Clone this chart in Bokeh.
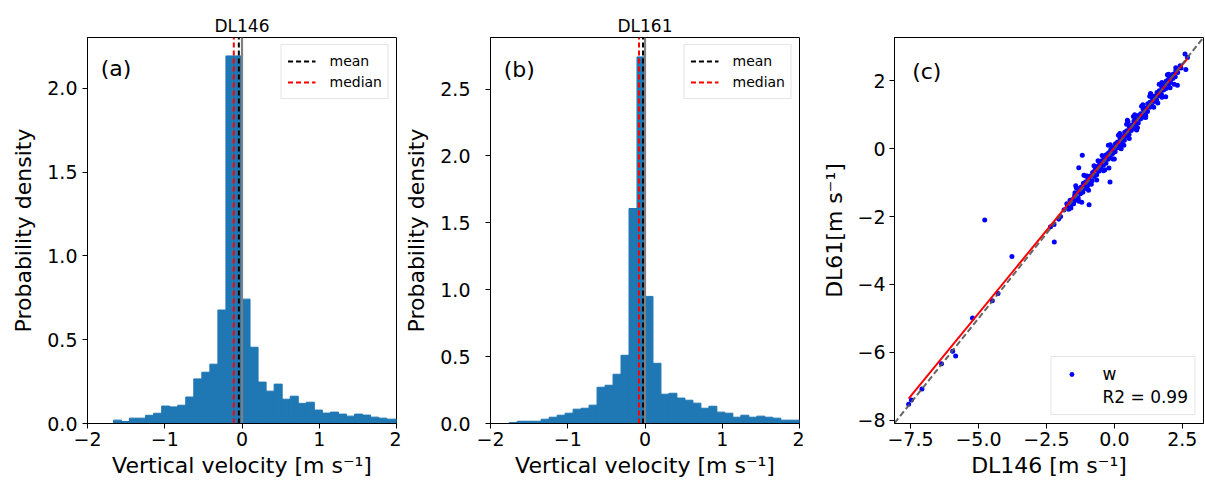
from bokeh.plotting import figure
from bokeh.layouts import row
from bokeh.models import (FixedTicker, CustomJSTickFormatter, Legend, LegendItem,
                          Label, Range1d)
from bokeh.embed import file_html
from bokeh.resources import INLINE

# ---------------- data ----------------
# panel (a) DL146 histogram (density), bins of width 0.104 starting at -1.664
bin_width_a = 0.104
first_edge_a = -1.664
dens_a = [0.020, 0.012, 0.032, 0.032, 0.049, 0.061, 0.104, 0.099, 0.109, 0.158,
          0.266, 0.306, 0.354, 0.677, 2.193, 2.193, 0.742, 0.455, 0.247, 0.193,
          0.235, 0.145, 0.163, 0.120, 0.127, 0.080, 0.062, 0.068, 0.056, 0.044,
          0.056, 0.050, 0.038, 0.032, 0.026, 0.026]
mean_a = -0.041
median_a = -0.106

# panel (b) DL161 histogram (density), bins of width 0.1034 starting at -1.758
bin_width_b = 0.1034
first_edge_b = -1.758
dens_b = [0.007, 0.017, 0.017, 0.017, 0.032, 0.047, 0.062, 0.077, 0.107, 0.114,
          0.137, 0.271, 0.286, 0.368, 0.510, 1.607, 2.740, 0.950, 0.450, 0.219,
          0.226, 0.190, 0.174, 0.152, 0.114, 0.129, 0.085, 0.077, 0.047, 0.062,
          0.047, 0.055, 0.047, 0.040, 0.025, 0.025, 0.025]
mean_b = -0.026
median_b = -0.078

# panel (c) scatter DL146 vs DL61
w146 = [-4.77, -3.77, -2.21, -2.22, -2.35, -1.98, -4.49, -4.28, -5.22, -5.95,
        -5.84, -6.36, -7.08, -7.57, -7.47, -1.18, -1.31, -0.16, -0.93, -1.20,
        -1.42, -1.12, -0.20, 2.60, 2.69, 2.63, 2.26, 2.32, 1.89, 1.33,
        1.15, 0.48, 0.82, -1.75, -1.85, -2.05, -1.60,
        -1.72, -1.63, -1.55, -1.46, -1.38, -1.31, -1.22, -1.14, -1.05, -0.97,
        -0.88, -0.80, -0.71, -0.63, -0.55, -0.46, -0.38, -0.30, -0.21, -0.13,
        -0.05, 0.04, 0.12, 0.21, 0.29, 0.38, 0.46, 0.55, 0.63, 0.72,
        0.80, 0.89, 0.97, 1.06, 1.14, 1.23, 1.31, 1.40, 1.48, 1.57,
        1.65, 1.74, 1.82, 1.91, 1.99, 2.08, 2.16, 2.26,
        -1.68, -1.59, -1.50, -1.42, -1.33, -1.25, -1.16, -1.08, -0.99, -0.91,
        -0.82, -0.74, -0.65, -0.57, -0.48, -0.40, -0.31, -0.23, -0.14, -0.06,
        0.03, 0.11, 0.20, 0.28, 0.37, 0.45, 0.54, 0.62, 0.71, 0.79,
        0.88, 0.96, 1.05, 1.13, 1.22, 1.30, 1.39, 1.47, 1.56, 1.64,
        1.73, 1.81, 1.90, 1.98, 2.07, 2.15, 2.24, 2.33, 2.45,
        -1.65, -1.48, -1.27, -1.10, -0.93, -0.76, -0.59, -0.42, -0.25, -0.08,
        0.09, 0.26, 0.43, 0.60, 0.77, 0.94, 1.11, 1.28, 1.45, 1.62,
        1.79, 1.96, 2.13, 2.30, 2.42,
        1.00, 1.30, 0.50, 1.15, -0.60, -0.40, 0.20, 0.00, 1.60, 2.00,
        2.20, -1.00, -0.22, 0.35, -0.85, 1.75, 0.70, -1.45,
        -1.40, -1.05, -0.75, -0.45, -0.15, 0.15, 0.45, 0.75, 1.05, 1.35,
        1.65, 1.95, -1.30, -0.95, -0.65, -0.35, -0.05, 0.25, 0.55, 0.85,
        1.15, 1.45, 1.75, 2.05]
w61 = [-2.10, -3.18, -2.75, -2.23, -2.30, -2.00, -4.48, -4.27, -4.99, -5.97,
       -6.11, -6.34, -7.08, -7.53, -7.41, -0.19, -0.56, -0.98, -1.65, -1.58,
       -1.09, -0.78, -0.57, 2.79, 2.69, 2.34, 2.39, 1.87, 1.53, 1.63,
       0.99, 0.84, 0.55, -1.62, -1.80, -2.08, -1.75,
       -1.68, -1.52, -1.50, -1.38, -1.30, -1.18, -1.13, -1.02, -0.97, -0.85,
       -0.80, -0.70, -0.62, -0.52, -0.47, -0.35, -0.30, -0.18, -0.12, -0.02,
       0.04, 0.15, 0.20, 0.32, 0.37, 0.49, 0.53, 0.65, 0.70, 0.82,
       0.86, 0.98, 1.03, 1.16, 1.20, 1.33, 1.37, 1.49, 1.55, 1.66,
       1.71, 1.83, 1.87, 2.00, 2.05, 2.12, 2.20, 2.30,
       -1.78, -1.66, -1.62, -1.52, -1.45, -1.33, -1.28, -1.17, -1.10, -0.99,
       -0.94, -0.82, -0.77, -0.66, -0.59, -0.48, -0.43, -0.31, -0.26, -0.14,
       -0.09, 0.03, 0.08, 0.20, 0.25, 0.37, 0.42, 0.54, 0.59, 0.71,
       0.76, 0.88, 0.93, 1.05, 1.10, 1.22, 1.27, 1.39, 1.44, 1.56,
       1.61, 1.73, 1.78, 1.90, 1.95, 2.07, 2.12, 2.25, 2.38,
       -1.62, -1.47, -1.25, -1.09, -0.92, -0.76, -0.58, -0.41, -0.24, -0.07,
       0.10, 0.27, 0.44, 0.61, 0.78, 0.95, 1.12, 1.29, 1.46, 1.63,
       1.80, 1.97, 2.14, 2.31, 2.45,
       1.25, 1.55, 0.80, 0.95, -0.35, -0.65, 0.45, -0.30, 1.35, 2.20,
       1.90, -0.80, 0.10, 0.10, -1.05, 1.95, 0.95, -1.30,
       -1.15, -0.80, -0.50, -0.20, 0.12, 0.40, 0.72, 1.00, 1.30, 1.60,
       1.90, 2.18, -1.55, -1.22, -0.92, -0.62, -0.30, 0.00, 0.30, 0.62,
       0.92, 1.22, 1.52, 1.80]
fit_slope = 0.977
fit_intercept = 0.03
r2_text = "R2 = 0.99"

FONT = "DejaVu Sans"
BAR = "#1f77b4"


def style(p):
    p.xgrid.visible = False
    p.ygrid.visible = False
    p.outline_line_color = "black"
    p.outline_line_width = 1
    p.outline_line_alpha = 1
    for ax in (p.xaxis[0], p.yaxis[0]):
        ax.axis_line_color = "black"
        ax.major_tick_line_color = "black"
        ax.major_tick_out = 5
        ax.major_tick_in = 0
        ax.minor_tick_line_color = None
        ax.major_label_text_font = FONT
        ax.major_label_text_font_size = "19px"
        ax.major_label_text_color = "black"
        ax.axis_label_text_font = FONT
        ax.axis_label_text_font_size = "22px"
        ax.axis_label_text_font_style = "normal"
        ax.axis_label_text_color = "black"
    p.xaxis.major_label_standoff = 3
    p.xaxis.axis_label_standoff = 4
    p.yaxis.axis_label_standoff = 8
    p.yaxis.major_label_standoff = 5


def fmt(decimals):
    return CustomJSTickFormatter(
        code="return tick.toFixed(%d).replace('-', '\\u2212');" % decimals)


def hist_panel(title, dens, first_edge, bw, ymax, yticks, mean, median, tag, tag_y,
               left_border, label_standoff):
    p = figure(width=10, height=10, frame_width=309, frame_height=386,
               x_range=Range1d(-2, 2), y_range=Range1d(0, ymax),
               output_backend="svg", toolbar_location=None,
               min_border_left=left_border, min_border_right=5,
               min_border_top=37, min_border_bottom=62,
               title=title)
    p.title.text_font = FONT
    p.title.text_font_size = "17px"
    p.title.text_font_style = "normal"
    p.title.text_color = "black"
    p.title.align = "center"
    p.title.standoff = 4
    lefts = [first_edge + i * bw for i in range(len(dens))]
    rights = [first_edge + (i + 1) * bw for i in range(len(dens))]
    p.quad(left=lefts, right=rights, bottom=0, top=dens,
           fill_color=BAR, line_color=BAR, line_width=1.0)
    p.line([0, 0], [0, ymax], line_color="#808080", line_width=2.2)
    r_mean = p.line([mean, mean], [0, ymax], line_color="black",
                    line_width=2, line_dash="5 3")
    r_med = p.line([median, median], [0, ymax], line_color="red",
                   line_width=2, line_dash="5 3")
    style(p)
    p.yaxis.major_label_standoff = label_standoff
    p.xaxis.ticker = FixedTicker(ticks=[-2, -1, 0, 1, 2])
    p.xaxis.formatter = fmt(0)
    p.yaxis.ticker = FixedTicker(ticks=yticks)
    p.yaxis.formatter = fmt(1)
    p.xaxis.axis_label = "Vertical velocity [m s\u207b\u00b9]"
    p.yaxis.axis_label = "Probability density"
    leg = Legend(items=[LegendItem(label="mean", renderers=[r_mean]),
                        LegendItem(label="median", renderers=[r_med])],
                 location="top_right", margin=7, padding=6, spacing=1,
                 glyph_width=28, glyph_height=20, label_height=20,
                 label_standoff=14, label_text_font=FONT,
                 label_text_font_size="14px", label_text_color="black",
                 border_line_color="#cccccc", background_fill_alpha=0.8)
    p.add_layout(leg)
    p.add_layout(Label(x=-1.83, y=tag_y, text=tag, text_font=FONT,
                       text_font_size="22px", text_baseline="middle",
                       text_color="black"))
    return p


pa = hist_panel("DL146", dens_a, first_edge_a, bin_width_a, 2.303,
                [0.0, 0.5, 1.0, 1.5, 2.0], mean_a, median_a, "(a)", 2.117, 87, 5)
pb = hist_panel("DL161", dens_b, first_edge_b, bin_width_b, 2.885,
                [0.0, 0.5, 1.0, 1.5, 2.0, 2.5], mean_b, median_b, "(b)", 2.644, 86, 15)

# panel (c)
lo, hi = -8.09, 3.28
pc = figure(width=10, height=10, frame_width=309, frame_height=386,
            x_range=Range1d(lo, hi), y_range=Range1d(-8.1, 3.28),
            output_backend="svg", toolbar_location=None,
            min_border_left=90, min_border_right=2,
            min_border_top=37, min_border_bottom=62)
r_sc = pc.scatter(w146, w61, size=5, color="blue", line_color=None)
xmin, xmax = min(w146), max(w146)
pc.line([xmin, xmax], [fit_slope * xmin + fit_intercept, fit_slope * xmax + fit_intercept],
        line_color="red", line_width=2)
pc.line([lo, hi], [lo, hi], line_color="#555555", line_width=2,
        line_dash="6 3", line_alpha=0.9)
r_dummy = pc.line([0, 0], [0, 0], line_alpha=0)
style(pc)
pc.xaxis.ticker = FixedTicker(ticks=[-7.5, -5.0, -2.5, 0.0, 2.5])
pc.xaxis.formatter = fmt(1)
pc.yaxis.ticker = FixedTicker(ticks=[-8, -6, -4, -2, 0, 2])
pc.yaxis.formatter = fmt(0)
pc.xaxis.axis_label = "DL146 [m s\u207b\u00b9]"
pc.yaxis.axis_label = "DL61[m s\u207b\u00b9]"
pc.yaxis.axis_label_standoff = 7
pc.yaxis.major_label_standoff = 4
legc = Legend(items=[LegendItem(label="w", renderers=[r_sc]),
                     LegendItem(label=r2_text, renderers=[r_dummy])],
              location="bottom_right", margin=8, padding=6, spacing=1,
              glyph_width=28, glyph_height=12, label_height=22,
              label_standoff=17, label_text_font=FONT,
              label_text_font_size="17px", label_text_color="black",
              border_line_color="#cccccc", background_fill_alpha=0.8)
pc.add_layout(legc)
pc.add_layout(Label(x=-7.44, y=2.27, text="(c)", text_font=FONT,
                    text_font_size="22px", text_baseline="middle",
                    text_color="black"))

layout = row(pa, pb, pc, spacing=0)
open("out.html", "w").write(file_html(layout, INLINE))
